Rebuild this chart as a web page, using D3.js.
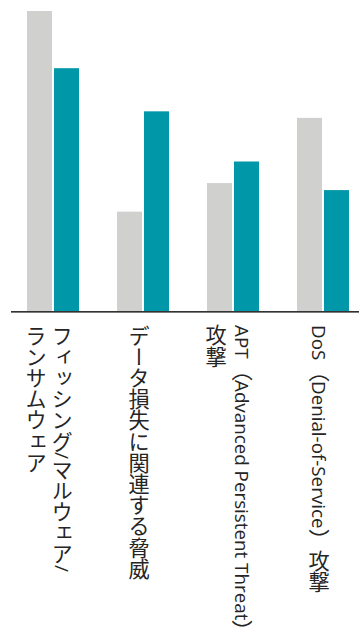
<!DOCTYPE html>
<html><head><meta charset="utf-8">
<script src="https://cdn.jsdelivr.net/npm/d3@7/dist/d3.min.js"></script>
<style>
html,body{margin:0;padding:0;background:#fff;overflow:hidden}
svg{display:block}
</style>
</head><body>
<svg id="chart" width="359" height="632"></svg>
<script>
// ---- data ----
const categories = [
  "フィッシング/マルウェア/ランサムウェア",
  "データ損失に関連する脅威",
  "APT（Advanced Persistent Threat）攻撃",
  "DoS（Denial-of-Service）攻撃"
];
const seriesNames = ["前回", "今回"];
const previousValues = [60, 20, 25.7, 38.7];
const currentValues = [48.6, 40, 30, 24.3];
const seriesColors = ["#d0d0cf", "#0097a8"];

// ---- layout ----
const width = 359, height = 632;
const baseY = 312, topY = 11;
const cjkFont = "'Noto Sans CJK JP', sans-serif";
const latinFont = "'Open Sans', 'Noto Sans CJK JP', sans-serif";
const cjkSize = 21.2;
const latinSize = 18.8;

const svg = d3.select("#chart");

const x = d3.scaleBand()
  .domain(categories)
  .range([11, 365])
  .paddingInner(0.4222)
  .paddingOuter(0.178);

const xInner = d3.scaleBand()
  .domain(seriesNames)
  .range([0, x.bandwidth()])
  .paddingInner(0.074);

const y = d3.scaleLinear()
  .domain([0, 60])
  .range([baseY, topY]);

const color = d3.scaleOrdinal().domain(seriesNames).range(seriesColors);

const rows = categories.map((c, i) => ({
  category: c,
  values: [
    {series: seriesNames[0], value: previousValues[i]},
    {series: seriesNames[1], value: currentValues[i]}
  ]
}));

// bars
const groups = svg.append("g").selectAll("g")
  .data(rows).join("g")
  .attr("transform", d => `translate(${x(d.category)},0)`);

groups.selectAll("rect")
  .data(d => d.values).join("rect")
  .attr("x", d => xInner(d.series))
  .attr("width", xInner.bandwidth())
  .attr("y", d => y(d.value))
  .attr("height", d => y(0) - y(d.value))
  .attr("fill", d => color(d.series));

// baseline (lighter underline)
svg.append("line")
  .attr("x1", 11).attr("x2", width)
  .attr("y1", baseY + 0.5).attr("y2", baseY + 0.5)
  .attr("stroke", "#7a7a7a").attr("stroke-width", 1);

// x axis
const axis = svg.append("g")
  .attr("transform", `translate(0,${baseY - 1})`)
  .call(d3.axisBottom(x).tickSize(0).tickPadding(0));

axis.select(".domain")
  .attr("stroke", "#333")
  .attr("stroke-width", 1)
  .attr("d", `M11,0.5H${width}`);

// split a string into latin / cjk runs
function runs(s) {
  return s.match(/[\x00-\x7F]+|[^\x00-\x7F]+/g) || [];
}
function addRuns(sel, s) {
  runs(s).forEach(r => {
    const latin = /^[\x00-\x7F]/.test(r);
    sel.append("tspan")
      .attr("font-family", latin ? latinFont : cjkFont)
      .attr("font-size", latin ? latinSize : cjkSize)
      .text(r);
  });
}

// measuring helper
const measurer = svg.append("text").attr("visibility", "hidden");
function textLen(s) {
  measurer.selectAll("*").remove();
  addRuns(measurer, s);
  return measurer.node().getComputedTextLength();
}

const maxLen = 300;
function wrapTokens(label) {
  const tokens = label.split(/(?<=[\/）])/);
  const lines = [];
  let cur = "";
  tokens.forEach(t => {
    if (cur && textLen(cur + t) > maxLen) {
      lines.push(cur);
      cur = t;
    } else {
      cur += t;
    }
  });
  if (cur) lines.push(cur);
  return lines;
}

const colGap = 26;
axis.selectAll(".tick text").each(function(label) {
  const t = d3.select(this);
  const lines = wrapTokens(label);
  t.text(null)
    .attr("y", null).attr("dy", null)
    .attr("fill", "#252525")
    .attr("font-family", cjkFont)
    .attr("font-size", cjkSize)
    .attr("text-anchor", "start")
    .style("writing-mode", "vertical-rl");
  const n = lines.length;
  lines.forEach((ln, i) => {
    const line = t.append("tspan")
      .attr("x", -4 + (n - 1) / 2 * colGap - i * colGap)
      .attr("y", 14);
    addRuns(line, ln);
  });
});
measurer.remove();
</script>
</body></html>
